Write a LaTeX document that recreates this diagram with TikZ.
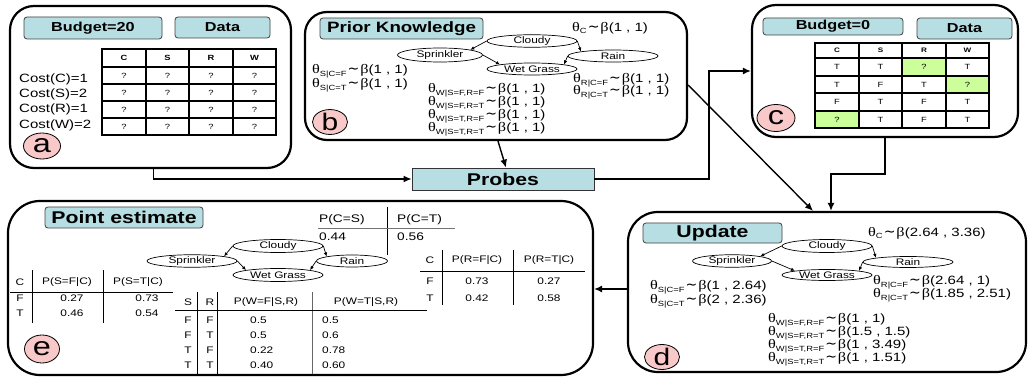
\documentclass[tikz,border=0pt]{standalone}
\usepackage{fontspec}
\setmainfont{Liberation Sans}[FakeStretch=1.25]
\newfontfamily\grk{Liberation Serif}[FakeStretch=1.25]
\newfontfamily\djv{DejaVu Sans}
\usetikzlibrary{shapes.geometric,arrows.meta}
\definecolor{cyanbox}{RGB}{183,222,226}
\definecolor{pinkc}{RGB}{249,200,200}
\definecolor{greenc}{RGB}{204,255,153}
\newcommand\fs[1]{\fontsize{#1}{#1}\selectfont}
\newcommand\thb[2]{{\grk\fs{13}θ}{\fs{7.5}\raisebox{-2.5pt}{#1}}\hspace{1pt}{\djv\fs{14}∼}\hspace{1pt}{\grk\fs{13}β}{\fs{12}(#2)}}
\tikzset{
  panel/.style={draw, line width=2.2pt, rounded corners=#1, inner sep=0},
  titlebox/.style={draw=black!75, fill=cyanbox, rounded corners=3pt, line width=0.8pt, inner sep=0, font=\bfseries\fs{13}},
  lbl/.style={ellipse, draw, fill=pinkc, line width=0.8pt, inner sep=0},
  bn/.style={ellipse, draw, line width=0.7pt, inner sep=0, font=\fs{9.5}},
  bnarr/.style={-{Latex[length=4pt,width=3.5pt]}, line width=0.7pt},
  arr/.style={-{Latex[length=8pt,width=7pt]}, line width=1.4pt},
  txt/.style={anchor=west, inner sep=0},
  cell/.style={inner sep=0, font=\fs{7.5}},
  tv/.style={inner sep=0, font=\fs{9.5}},
  grid/.style={line width=1.2pt},
  rule/.style={line width=0.8pt},
}
\begin{document}
\begin{tikzpicture}[x=1pt,y=-1pt]
\useasboundingbox (0,0) rectangle (1029,377);

% ---------------- panel a
\node[panel=24pt, minimum width=281pt, minimum height=162pt] (pa) at (150.5,87) {};
\node[titlebox, minimum width=138pt, minimum height=22pt] (abud) at (93,28) {Budget=20};
\node[titlebox, minimum width=95pt, minimum height=21pt] (adat) at (222.5,27.5) {Data};
\draw[grid] (102,49) rectangle (276,135);
\foreach \x in {146,189,233} \draw[grid] (\x,49) -- (\x,135);
\foreach \y in {67,84,101,118} \draw[grid] (102,\y) -- (276,\y);
\foreach \x/\c in {124/C,167.5/S,211/R,254.5/W}{
  \node[cell, font=\bfseries\fs{7.5}] (ah\c) at (\x,58) {\c};
  \foreach \y/\r in {75.5/1,92.5/2,109.5/3,126.5/4} \node[cell] (aq\c\r) at (\x,\y) {?};
}
\node[txt, font=\fs{12}] (ac1) at (19,79) {Cost(C)=1};
\node[txt, font=\fs{12}] (ac2) at (19,94) {Cost(S)=2};
\node[txt, font=\fs{12}] (ac3) at (19,109) {Cost(R)=1};
\node[txt, font=\fs{12}] (ac4) at (19,125) {Cost(W)=2};
\node[lbl, minimum width=37pt, minimum height=26pt] (la) at (42,146) {\fs{26}a};

% ---------------- panel b
\node[panel=22pt, minimum width=382pt, minimum height=128pt] (pb) at (496,76) {};
\node[titlebox, font=\bfseries\fs{15}, minimum width=163pt, minimum height=21pt] (btit) at (401.5,28.5) {Prior Knowledge};
\node[bn, minimum width=90pt, minimum height=12pt] (bcl) at (532,41) {Cloudy};
\node[bn, minimum width=85pt, minimum height=14pt] (bsp) at (440,55) {Sprinkler};
\node[bn, minimum width=90pt, minimum height=12pt] (bra) at (613,56) {Rain};
\node[bn, minimum width=90pt, minimum height=12pt] (bwg) at (532,69) {Wet Grass};
\draw[bnarr] (bcl.west) -- (bsp.north east);
\draw[bnarr] (bcl.east) -- (bra.north west);
\draw[bnarr] (bsp.east) -- (bwg.north west);
\draw[bnarr] (bra.west) -- (bwg.north east);
\node[txt] (bthc) at (572,28) {\thb{C}{1 , 1}};
\node[txt] (bths1) at (312,71) {\thb{S|C=F}{1 , 1}};
\node[txt] (bths2) at (312,85) {\thb{S|C=T}{1 , 1}};
\node[txt] (bthw1) at (428,90) {\thb{W|S=F,R=F}{1 , 1}};
\node[txt] (bthw2) at (428,103) {\thb{W|S=F,R=T}{1 , 1}};
\node[txt] (bthw3) at (428,116) {\thb{W|S=T,R=F}{1 , 1}};
\node[txt] (bthw4) at (428,129) {\thb{W|S=T,R=T}{1 , 1}};
\node[txt] (bthr1) at (573,80) {\thb{R|C=F}{1 , 1}};
\node[txt] (bthr2) at (573,92) {\thb{R|C=T}{1 , 1}};
\node[lbl, minimum width=35pt, minimum height=23pt] (lb) at (330,122) {\fs{24}b};

% ---------------- panel c
\node[panel=24pt, minimum width=266pt, minimum height=132pt] (pc) at (885,71) {};
\node[titlebox, minimum width=140pt, minimum height=17pt] (cbud) at (833,26.5) {Budget=0};
\node[titlebox, minimum width=95pt, minimum height=21pt] (cdat) at (964.5,28.5) {Data};
\fill[greenc] (902,58) rectangle (946,76);
\fill[greenc] (946,76) rectangle (989,93);
\fill[greenc] (815,111) rectangle (859,128);
\draw[grid] (815,43) rectangle (989,128);
\foreach \x in {859,902,946} \draw[grid] (\x,43) -- (\x,128);
\foreach \y in {58,76,93,111} \draw[grid] (815,\y) -- (989,\y);
\foreach \x/\c in {837/C,880.5/S,924/R,967.5/W}
  \node[cell, font=\bfseries\fs{6.5}] (ch\c) at (\x,50.5) {\c};
\foreach \y/\r/\a/\b/\cc/\d in {67/1/T/T/?/T, 84.5/2/T/F/T/?, 102/3/F/T/F/T, 119.5/4/?/T/F/T}{
  \node[cell] (cv\r a) at (837,\y) {\a};
  \node[cell] (cv\r b) at (880.5,\y) {\b};
  \node[cell] (cv\r c) at (924,\y) {\cc};
  \node[cell] (cv\r d) at (967.5,\y) {\d};
}
\node[lbl, minimum width=38pt, minimum height=27pt] (lc) at (776,118) {\fs{26}c};

% ---------------- probes
\node[draw=black!80, fill=cyanbox, line width=0.8pt, minimum width=182pt, minimum height=22pt, inner sep=0, font=\bfseries\fs{17}] (probes) at (503,179) {Probes};

% ---------------- panel d
\node[panel=30pt, minimum width=398pt, minimum height=160pt] (pd) at (827,292) {};
\node[titlebox, font=\bfseries\fs{17}, minimum width=139pt, minimum height=20pt] (dtit) at (712.5,233) {Update};
\node[bn, minimum width=90pt, minimum height=13pt] (dcl) at (827,246) {Cloudy};
\node[bn, minimum width=79pt, minimum height=12pt] (dsp) at (732,261) {Sprinkler};
\node[bn, minimum width=90pt, minimum height=11pt] (dra) at (908,262) {Rain};
\node[bn, minimum width=90pt, minimum height=11pt] (dwg) at (827,275) {Wet Grass};
\draw[bnarr] (dcl.west) -- (dsp.north east);
\draw[bnarr] (dcl.east) -- (dra.north west);
\draw[bnarr] (dsp.east) -- (dwg.north west);
\draw[bnarr] (dra.west) -- (dwg.north east);
\node[txt] (dthc) at (868,233) {\thb{C}{2.64 , 3.36}};
\node[txt] (dths1) at (650,287) {\thb{S|C=F}{1 , 2.64}};
\node[txt] (dths2) at (650,301) {\thb{S|C=T}{2 , 2.36}};
\node[txt] (dthr1) at (873,282) {\thb{R|C=F}{2.64 , 1}};
\node[txt] (dthr2) at (873,295) {\thb{R|C=T}{1.85 , 2.51}};
\node[txt] (dthw1) at (768,320) {\thb{W|S=F,R=F}{1 , 1}};
\node[txt] (dthw2) at (768,333) {\thb{W|S=F,R=T}{1.5 , 1.5}};
\node[txt] (dthw3) at (768,346) {\thb{W|S=T,R=F}{1 , 3.49}};
\node[txt] (dthw4) at (768,359) {\thb{W|S=T,R=T}{1 , 1.51}};
\node[lbl, minimum width=35pt, minimum height=25pt] (ld) at (662,357) {\fs{24}d};

% ---------------- panel e
\node[panel=32pt, minimum width=585pt, minimum height=174pt] (pe) at (300.5,288) {};
\node[titlebox, font=\bfseries\fs{17}, minimum width=158pt, minimum height=21pt] (etit) at (124,217.5) {Point estimate};
\node[bn, minimum width=90pt, minimum height=13pt] (ecl) at (278,246) {Cloudy};
\node[bn, minimum width=90pt, minimum height=12pt] (esp) at (192,261) {Sprinkler};
\node[bn, minimum width=71pt, minimum height=12pt] (era) at (352,261) {Rain};
\node[bn, minimum width=90pt, minimum height=13pt] (ewg) at (278,275) {Wet Grass};
\draw[bnarr] (ecl.west) -- (esp.north east);
\draw[bnarr] (ecl.east) -- (era.north west);
\draw[bnarr] (esp.east) -- (ewg.north west);
\draw[bnarr] (era.west) -- (ewg.north east);
% P(C)
\node[txt, font=\fs{11}] (epc1) at (319,220) {P(C=S)};
\node[txt, font=\fs{11}] (epc2) at (397,220) {P(C=T)};
\node[txt, font=\fs{11}] (epc3) at (319,237) {0.44};
\node[txt, font=\fs{11}] (epc4) at (397,237) {0.56};
\draw[rule] (387,207) -- (387,255);
\draw[rule, black!55] (318,228) -- (455,228);
% P(S|C)
\node[tv] (es0) at (20,282) {C};
\node[tv] (es1) at (67,282) {P(S=F|C)};
\node[tv] (es2) at (138,282) {P(S=T|C)};
\draw[rule] (32,270) -- (32,323);
\draw[rule] (103,270) -- (103,323);
\draw[rule] (10,292) -- (173,292);
\node[tv] (es3) at (20,298) {F};
\node[tv] (es4) at (72,298) {0.27};
\node[tv] (es5) at (147,298) {0.73};
\node[tv] (es6) at (20,313) {T};
\node[tv] (es7) at (72,313) {0.46};
\node[tv] (es8) at (147,313) {0.54};
% P(W|S,R)
\node[tv] (ew0) at (188,302) {S};
\node[tv] (ew1) at (210,302) {R};
\node[tv] (ew2) at (266,302) {P(W=F|S,R)};
\node[tv] (ew3) at (366,302) {P(W=T|S,R)};
\draw[rule] (197,292) -- (197,374);
\draw[rule] (217,292) -- (217,374);
\draw[rule, black!60] (312,292) -- (312,374);
\draw[rule] (175,310) -- (427,310);
\foreach \y/\r/\s/\t/\p/\q in {320/1/F/F/0.5/0.5, 335/2/F/T/0.5/0.6, 350/3/T/F/0.22/0.78, 365/4/T/T/0.40/0.60}{
  \node[tv] (ews\r) at (188,\y) {\s};
  \node[tv] (ewr\r) at (210,\y) {\t};
  \node[tv, anchor=west] (ewp\r) at (250,\y) {\p};
  \node[tv, anchor=west] (ewq\r) at (322,\y) {\q};
}
% P(R|C)
\node[tv] (er0) at (430,260) {C};
\node[tv] (er1) at (477,260) {P(R=F|C)};
\node[tv] (er2) at (549,260) {P(R=T|C)};
\draw[rule] (442,250) -- (442,305);
\draw[rule] (513,250) -- (513,305);
\draw[rule] (420,271) -- (585,271);
\node[tv] (er3) at (430,281) {F};
\node[tv] (er4) at (477,281) {0.73};
\node[tv] (er5) at (549,281) {0.27};
\node[tv] (er6) at (430,298) {T};
\node[tv] (er7) at (477,298) {0.42};
\node[tv] (er8) at (549,298) {0.58};
\node[lbl, minimum width=35pt, minimum height=28pt] (le) at (42,349) {\fs{26}e};

% ---------------- connectors
\coordinate (k1) at (709,71);
\draw[arr] ([xshift=3pt]pa.south) |- (probes.west);
\draw[arr] ([xshift=2pt]pb.south) -- ([xshift=3pt]probes.north);
\draw[arr] (probes.east) -| (k1) -- (pc.west);
\draw[arr] ([yshift=-9pt]pb.east) -- ([xshift=-14pt]pd.north);
\draw[arr] (pc.south) -- ++(0,36) -| ([xshift=4pt]pd.north);
\draw[arr] ([yshift=3pt]pd.west) -- ([yshift=3pt]pd.west -| pe.east);
\end{tikzpicture}
\end{document}
